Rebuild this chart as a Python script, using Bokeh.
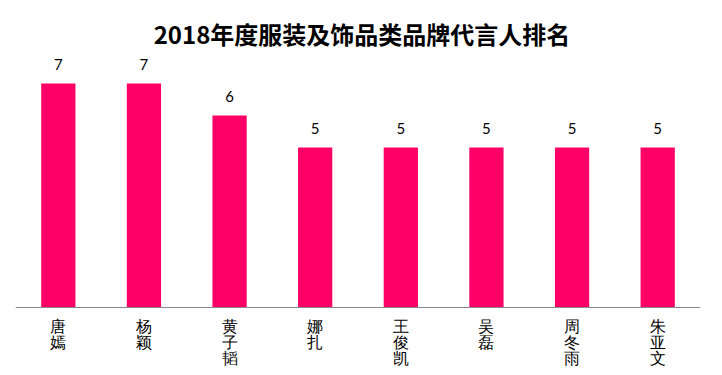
from bokeh.plotting import figure
from bokeh.models import ColumnDataSource, LabelSet, Label, Range1d, Span
from bokeh.embed import file_html
from bokeh.resources import INLINE

names = ["唐嫣", "杨颖", "黄子韬", "娜扎", "王俊凯", "吴磊", "周冬雨", "朱亚文"]
counts = [7, 7, 6, 5, 5, 5, 5, 5]
title_text = "2018年度服装及饰品类品牌代言人排名"

W, H = 722, 375
LEFT, RIGHT = 15, 700          # horizontal extent of the plot area
BASE = 307                     # pixel row of the value axis (y = 0)
PPU = 32.0                     # pixels per unit

src = ColumnDataSource(dict(x=names, y=counts))

p = figure(x_range=names, y_range=Range1d(-(H - BASE) / PPU, BASE / PPU),
           width=W, height=H, output_backend="svg", toolbar_location=None, tools="",
           min_border_left=LEFT, min_border_right=W - RIGHT,
           min_border_bottom=0, min_border_top=0)

p.vbar(x="x", top="y", width=0.4, source=src, color="#FF0066", line_color=None)

p.add_layout(Span(location=0, dimension="width", line_color="#898989", line_width=1))

# value labels above bars
for i, c in enumerate(counts):
    p.add_layout(Label(x=i + 0.5, y=c, text=str(c), text_align="center",
                       text_baseline="alphabetic", y_offset=19, text_font_size="15px",
                       text_font="Lato", text_color="#000000"))

# stacked (vertical) category labels, one row per character
for i in range(3):
    xs = [n for n in names if len(n) > i]
    chars = [n[i] for n in names if len(n) > i]
    s = ColumnDataSource(dict(x=xs, y=[0] * len(xs), t=chars))
    p.add_layout(LabelSet(x="x", y="y", text="t", source=s, text_align="center",
                          text_baseline="top", y_offset=-(10 + 16 * i),
                          text_font="Noto Sans CJK SC", text_font_size="16px",
                          text_color="#000000"))

p.add_layout(Label(x=(361.5 - LEFT) / ((RIGHT - LEFT) / len(names)), y=(BASE - 33) / PPU,
                   text=title_text, text_align="center", text_baseline="middle",
                   text_font="Noto Sans CJK SC", text_font_size="24px",
                   text_font_style="bold", text_color="#000000"))

p.xgrid.visible = False
p.ygrid.visible = False
p.xaxis.visible = False
p.yaxis.visible = False
p.outline_line_color = None

open("out.html", "w").write(file_html(p, INLINE))
